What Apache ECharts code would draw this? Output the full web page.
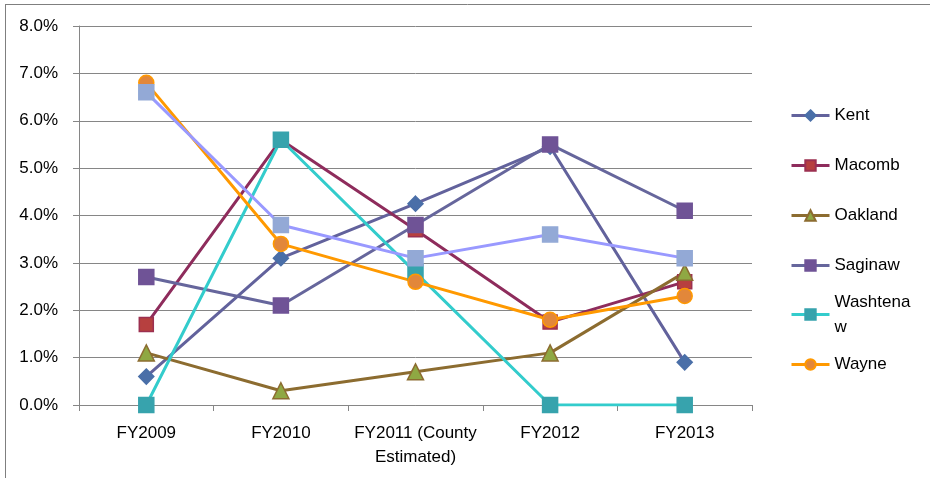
<!DOCTYPE html>
<html>
<head>
<meta charset="utf-8">
<script src="https://cdn.jsdelivr.net/npm/echarts@6/dist/echarts.min.js"></script>
<style>
  html, body { margin: 0; padding: 0; background: #fff; }
  #chart { width: 930px; height: 478px; }
</style>
</head>
<body>
<div id="chart"></div>
<script>
// Fiscal years on the category axis
const categories = ['FY2009', 'FY2010', 'FY2011 (County\nEstimated)', 'FY2012', 'FY2013'];

// Percentage values per county
const kent      = [0.6, 3.1, 4.25, 5.45, 0.9];
const macomb    = [1.7, 5.6, 3.7, 1.75, 2.6];
const oakland   = [1.1, 0.3, 0.7, 1.1, 2.8];
const saginaw   = [2.7, 2.1, 3.8, 5.5, 4.1];
const washtenaw = [0.0, 5.6, 2.8, 0.0, 0.0];
const wayne     = [6.8, 3.4, 2.6, 1.8, 2.3];
const other     = [6.6, 3.8, 3.1, 3.6, 3.1];

// Value axis ticks (percent)
const yTicks = [0, 1, 2, 3, 4, 5, 6, 7, 8];

const legendNames = ['Kent', 'Macomb', 'Oakland', 'Saginaw', 'Washtenaw', 'Wayne'];

const FONT = 'Liberation Sans, Arial, sans-serif';

function lineSeries(name, data, lineColor, markColor, borderColor, symbol, size) {
  return {
    name: name,
    type: 'line',
    data: data,
    symbol: symbol,
    symbolSize: size,
    showAllSymbol: true,
    lineStyle: { color: lineColor, width: 3 },
    itemStyle: { color: markColor, borderColor: borderColor, borderWidth: 1.5 },
    color: lineColor,
    emphasis: { disabled: true },
    animation: false,
    z: 2
  };
}

const chart = echarts.init(document.getElementById('chart'), null, { renderer: 'canvas' });

// one legend block per county so rows keep an even pitch
const legendTops = [98, 148, 198, 248, 272, 347];
const legends = legendNames.map((n, i) => {
  const wrapped = n === 'Washtenaw';
  return {
    data: [n],
    orient: 'vertical',
    left: 785,
    top: legendTops[i],
    itemWidth: 38,
    itemHeight: 13,
    itemGap: 0,
    selectedMode: false,
    lineStyle: { width: 3 },
    formatter: (name) => name === 'Washtenaw' ? 'Washtena\nw' : name,
    textStyle: {
      fontFamily: FONT, fontSize: 17, color: '#000', lineHeight: 25,
      padding: wrapped ? [25, 0, 0, 0] : 0
    }
  };
});

const option = {
  backgroundColor: '#fff',
  textStyle: { fontFamily: FONT },
  legend: legends,
  grid: { left: 79, right: 178, top: 26, bottom: 73 },
  xAxis: {
    type: 'category',
    data: categories,
    boundaryGap: true,
    axisLine: { lineStyle: { color: '#868686', width: 1 } },
    axisTick: { show: true, length: 6, lineStyle: { color: '#868686' }, alignWithLabel: false },
    axisLabel: { fontFamily: FONT, fontSize: 17, color: '#000', margin: 16, lineHeight: 24, interval: 0 },
    splitLine: { show: false }
  },
  yAxis: {
    type: 'value',
    min: yTicks[0],
    max: yTicks[yTicks.length - 1],
    interval: 1,
    axisLine: { show: true, lineStyle: { color: '#868686', width: 1 } },
    axisTick: { show: true, length: 6, lineStyle: { color: '#868686' } },
    axisLabel: { fontFamily: FONT, fontSize: 17, color: '#000', margin: 21,
                 formatter: v => v.toFixed(1) + '%' },
    splitLine: { show: true, lineStyle: { color: '#868686', width: 1 } }
  },
  graphic: [
    { type: 'line', shape: { x1: 5, y1: 4.5, x2: 930, y2: 4.5 }, style: { stroke: '#7f7f7f', lineWidth: 1 }, silent: true },
    { type: 'line', shape: { x1: 5.5, y1: 4, x2: 5.5, y2: 478 }, style: { stroke: '#7f7f7f', lineWidth: 1 }, silent: true }
  ],
  series: [
    lineSeries('Kent', kent, '#62629c', '#4a6fa8', '#4a6fa8', 'diamond', 15),
    lineSeries('Macomb', macomb, '#8e2c5c', '#b7403f', '#9c3050', 'rect', 14),
    lineSeries('Oakland', oakland, '#8c6c30', '#8fa843', '#8c6c30', 'triangle', 16),
    lineSeries('Saginaw', saginaw, '#66669c', '#6f5396', '#6f5396', 'rect', 15),
    lineSeries('Washtenaw', washtenaw, '#33cccc', '#37a3ad', '#37a3ad', 'rect', 15),
    lineSeries('Wayne', wayne, '#ff9900', '#e2873a', '#ff9900', 'circle', 15),
    lineSeries('Other', other, '#9999ff', '#93a9d6', '#93a9d6', 'rect', 15)
  ]
};

chart.setOption(option);
</script>
</body>
</html>
